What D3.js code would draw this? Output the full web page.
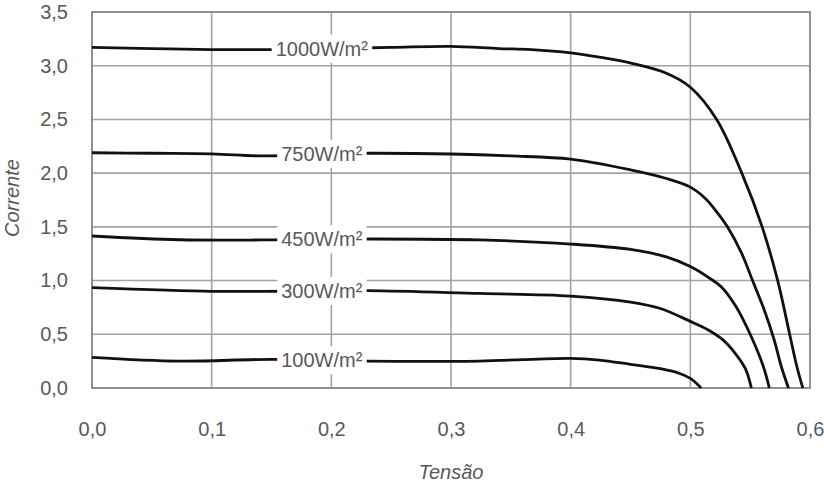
<!DOCTYPE html>
<html>
<head>
<meta charset="utf-8">
<script src="https://cdn.jsdelivr.net/npm/d3@7"></script>
<style>
  body { margin: 0; background: #fff; }
  svg text { font-family: "Liberation Sans", Arial, sans-serif; fill: #595959; }
</style>
</head>
<body>
<svg id="chart"></svg>
<script>
// irradiance levels (curve labels)
const levels = ["1000W/m²", "750W/m²", "450W/m²", "300W/m²", "100W/m²"];

// tension (V) / current (A), one array per curve
const curve1000 = [[0, 3.17], [0.05, 3.16], [0.1, 3.15], [0.15, 3.15], [0.2, 3.16], [0.25, 3.17], [0.3, 3.18],
  [0.34, 3.16], [0.367, 3.15], [0.4, 3.12], [0.424, 3.08], [0.452, 3.02], [0.48, 2.93], [0.5, 2.80],
  [0.522, 2.5], [0.543, 2.0], [0.56, 1.5], [0.573, 1.0], [0.583, 0.5], [0.589, 0.2], [0.594, 0]];
const curve750 = [[0, 2.19], [0.05, 2.185], [0.1, 2.18], [0.143, 2.16], [0.2, 2.18], [0.232, 2.185], [0.3, 2.178],
  [0.35, 2.16], [0.4, 2.13], [0.45, 2.03], [0.48, 1.95], [0.5, 1.87], [0.513, 1.76], [0.522, 1.64],
  [0.531, 1.5], [0.543, 1.25], [0.552, 1.0], [0.562, 0.72], [0.57, 0.45], [0.576, 0.2], [0.582, 0]];
const curve450 = [[0, 1.415], [0.073, 1.38], [0.143, 1.378], [0.2, 1.385], [0.23, 1.387], [0.324, 1.378],
  [0.4, 1.34], [0.45, 1.29], [0.48, 1.22], [0.5, 1.13], [0.515, 1.03], [0.526, 0.94], [0.538, 0.76],
  [0.55, 0.5], [0.561, 0.2], [0.566, 0]];
const curve300 = [[0, 0.934], [0.1, 0.9], [0.143, 0.9], [0.23, 0.906], [0.324, 0.88], [0.4, 0.856],
  [0.45, 0.8], [0.475, 0.74], [0.5, 0.62], [0.515, 0.54], [0.527, 0.45], [0.537, 0.33], [0.546, 0.18],
  [0.551, 0]];
const curve100 = [[0, 0.285], [0.073, 0.25], [0.15, 0.267], [0.23, 0.25], [0.324, 0.251], [0.4, 0.276],
  [0.424, 0.26], [0.45, 0.22], [0.475, 0.18], [0.49, 0.14], [0.5, 0.09], [0.505, 0.045], [0.509, 0]];
const curves = [curve1000, curve750, curve450, curve300, curve100];

// axis ticks
const xTicks = [0, 0.1, 0.2, 0.3, 0.4, 0.5, 0.6];
const yTicks = [0, 0.5, 1.0, 1.5, 2.0, 2.5, 3.0, 3.5];
const labelV = 0.192;   // tension where the curve labels sit

const W = 824, H = 484;
const margin = {top: 12, right: 14, bottom: 96, left: 92};

const svg = d3.select("#chart").attr("width", W).attr("height", H);

const x = d3.scaleLinear().domain([0, 0.6]).range([margin.left, W - margin.right]);
const y = d3.scaleLinear().domain([0, 3.5]).range([H - margin.bottom, margin.top]);

const comma = d3.formatLocale({decimal: ",", thousands: ".", grouping: [3], currency: ["", ""]}).format(".1f");

// grid
const grid = svg.append("g").attr("stroke", "#a3a3a3").attr("stroke-width", 1.6);
grid.selectAll("line.v").data(xTicks).join("line")
  .attr("x1", d => x(d)).attr("x2", d => x(d))
  .attr("y1", y(0)).attr("y2", y(3.5));
grid.selectAll("line.h").data(yTicks).join("line")
  .attr("x1", x(0)).attr("x2", x(0.6))
  .attr("y1", d => y(d)).attr("y2", d => y(d));

// frame
svg.append("rect")
  .attr("x", x(0)).attr("y", y(3.5))
  .attr("width", x(0.6) - x(0)).attr("height", y(0) - y(3.5))
  .attr("fill", "none").attr("stroke", "#8c8c8c").attr("stroke-width", 1.8);

// axes (labels only)
const xAxis = svg.append("g")
  .attr("transform", `translate(0,${y(0)})`)
  .call(d3.axisBottom(x).tickValues(xTicks).tickFormat(comma).tickSize(0).tickPadding(34));
const yAxis = svg.append("g")
  .attr("transform", `translate(${x(0)},0)`)
  .call(d3.axisLeft(y).tickValues(yTicks).tickFormat(comma).tickSize(0).tickPadding(24));
[xAxis, yAxis].forEach(a => {
  a.select(".domain").remove();
  a.selectAll("text").attr("font-size", 20).attr("fill", "#595959")
    .attr("font-family", null);
});

// curves
const line = d3.line()
  .x(d => x(d[0]))
  .y(d => y(d[1]))
  .curve(d3.curveCatmullRom.alpha(0.5));

svg.append("g").selectAll("path").data(curves).join("path")
  .attr("d", line)
  .attr("fill", "none")
  .attr("stroke", "#111")
  .attr("stroke-width", 2.8)
  .attr("stroke-linejoin", "round");

// curve labels on white patches
function valueAt(c, v) {
  for (let i = 1; i < c.length; i++) {
    if (c[i][0] >= v) {
      const t = (v - c[i - 1][0]) / (c[i][0] - c[i - 1][0]);
      return c[i - 1][1] + t * (c[i][1] - c[i - 1][1]);
    }
  }
  return c[c.length - 1][1];
}

const labels = svg.append("g").selectAll("g").data(curves).join("g")
  .attr("transform", d => `translate(${x(labelV)},${y(valueAt(d, labelV))})`);
labels.append("text")
  .attr("text-anchor", "middle")
  .attr("dy", "0.35em")
  .attr("font-size", 20)
  .text((d, i) => levels[i]);
labels.each(function() {
  const g = d3.select(this);
  const b = g.select("text").node().getBBox();
  g.insert("rect", "text")
    .attr("x", b.x - 4).attr("y", b.y - 3)
    .attr("width", b.width + 8).attr("height", b.height + 6)
    .attr("fill", "#fff");
});

// axis titles
svg.append("text")
  .attr("x", x(0.3)).attr("y", 479)
  .attr("text-anchor", "middle")
  .attr("font-size", 20).attr("font-style", "italic")
  .text("Tensão");
svg.append("text")
  .attr("transform", `translate(19,${y(1.75) - 2}) rotate(-90)`)
  .attr("text-anchor", "middle")
  .attr("font-size", 20).attr("font-style", "italic")
  .text("Corrente");
</script>
</body>
</html>
